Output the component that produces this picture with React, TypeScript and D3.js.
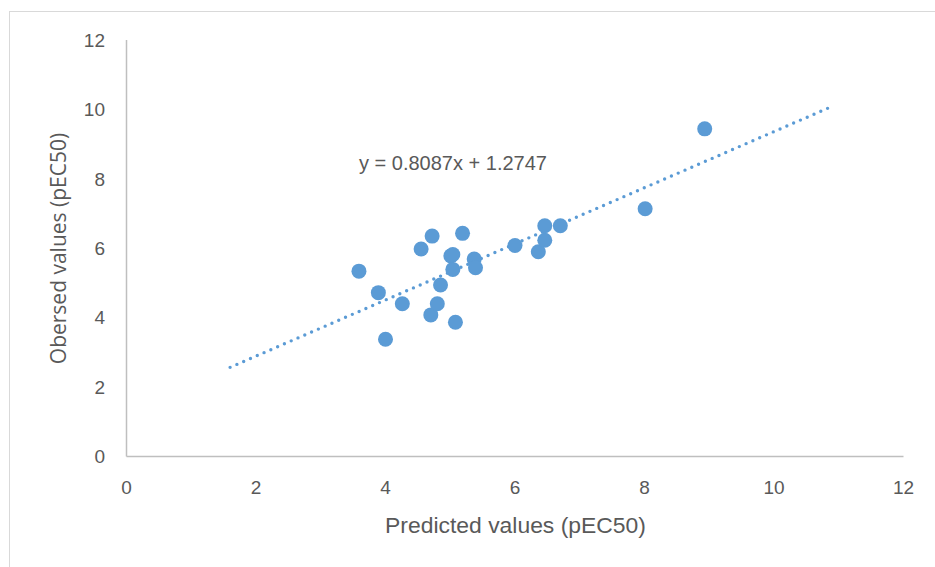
import React from "react";
import * as d3 from "d3";

const predicted = [3.59, 3.89, 4.0, 4.26, 4.55, 4.72, 4.7, 4.8, 4.85, 5.01, 5.04, 5.04, 5.08, 5.19, 5.37, 5.39, 6.0, 6.36, 6.46, 6.46, 6.7, 8.01, 8.93];
const observed = [5.34, 4.72, 3.38, 4.4, 5.98, 6.35, 4.08, 4.4, 4.94, 5.78, 5.82, 5.39, 3.87, 6.43, 5.69, 5.44, 6.08, 5.9, 6.23, 6.65, 6.65, 7.14, 9.44];
const xTicks = [0, 2, 4, 6, 8, 10, 12];
const yTicks = [0, 2, 4, 6, 8, 10, 12];
const slope = 0.8087;
const intercept = 1.2747;
const trendRange = [1.6, 10.85];
const equationLabel = "y = 0.8087x + 1.2747";
const xTitle = "Predicted values (pEC50)";
const yTitle = "Obersed values (pEC50)";

export default function App() {
  const W = 935, H = 567;
  const x = d3.scaleLinear().domain([0, 12]).range([126.5, 903.5]);
  const y = d3.scaleLinear().domain([0, 12]).range([456.5, 40]);
  const color = "#5B9BD5";
  const textColor = "#595959";
  const font = "'Liberation Sans', Arial, sans-serif";
  const trend = d3.line<number>().x((d) => x(d)).y((d) => y(slope * d + intercept))(trendRange) || "";
  const pts = predicted.map((p, i) => ({ p, o: observed[i] }));
  return (
    <svg width={W} height={H} style={{ position: "absolute", left: 0, top: 0, background: "#fff" }}>
      <rect x={0} y={0} width={W} height={H} fill="#fff" />
      <rect x={9.5} y={11.5} width={W + 20} height={H + 20} fill="none" stroke="#D9D9D9" strokeWidth={1} />
      <line x1={x(0)} x2={x(0)} y1={y(12)} y2={y(0)} stroke="#BFBFBF" strokeWidth={1.5} />
      <line x1={x(0)} x2={x(12)} y1={y(0)} y2={y(0)} stroke="#BFBFBF" strokeWidth={1.5} />
      {xTicks.map((t) => (
        <text key={"x" + t} x={x(t)} y={494} textAnchor="middle" fontFamily={font} fontSize={19} fill={textColor}>
          {t}
        </text>
      ))}
      {yTicks.map((t) => (
        <text key={"y" + t} x={105} y={y(t) + 6.8} textAnchor="end" fontFamily={font} fontSize={19} fill={textColor}>
          {t}
        </text>
      ))}
      <path d={trend} fill="none" stroke={color} strokeWidth={3.4} strokeDasharray="0 7.4" strokeLinecap="round" />
      {pts.map((d, i) => (
        <circle key={i} cx={x(d.p)} cy={y(d.o)} r={7.5} fill={color} />
      ))}
      <text x={359} y={170} fontFamily={font} fontSize={20} fill={textColor}>
        {equationLabel}
      </text>
      <text x={515.5} y={533} textAnchor="middle" fontFamily={font} fontSize={22.9} fill={textColor}>
        {xTitle}
      </text>
      <text transform={`translate(66,248.5) rotate(-90)`} textAnchor="middle" fontFamily="'Open Sans', sans-serif" fontSize={21} fill={textColor}>
        {yTitle}
      </text>
    </svg>
  );
}
